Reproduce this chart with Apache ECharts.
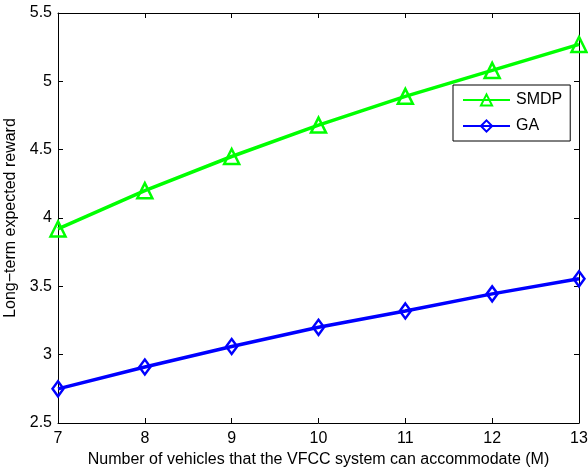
<!DOCTYPE html>
<html>
<head>
<meta charset="utf-8">
<script src="https://cdn.jsdelivr.net/npm/echarts@6/dist/echarts.min.js"></script>
<style>
  html, body { margin: 0; padding: 0; background: #fff; }
  #chart { width: 588px; height: 468px; }
</style>
</head>
<body>
<div id="chart"></div>
<script>
// Capacity M of the VFCC system
const vehicles = [7, 8, 9, 10, 11, 12, 13];
// Long-term expected reward per policy
const smdpReward = [3.92, 4.20, 4.45, 4.68, 4.89, 5.08, 5.27];
const gaReward = [2.75, 2.91, 3.06, 3.20, 3.32, 3.445, 3.555];
const seriesNames = ['SMDP', 'GA'];

const font = 'Liberation Sans, Arial, sans-serif';

const chart = echarts.init(document.getElementById('chart'), null, { renderer: 'canvas' });

function frameAxis(extra) {
  return Object.assign({
    axisLine: { show: true, onZero: false, lineStyle: { color: '#000', width: 1 } },
    axisTick: { show: true, inside: true, length: 5, lineStyle: { color: '#000' } },
    splitLine: { show: false },
    axisLabel: { show: false }
  }, extra);
}

chart.setOption({
  animation: false,
  backgroundColor: '#fff',
  grid: { left: 58, right: 9, top: 13, bottom: 45, containLabel: false, outerBoundsMode: 'none' },
  legend: {
    orient: 'vertical',
    left: 453,
    top: 85,
    width: 115,
    padding: [7, 8, 7, 9],
    itemGap: 10,
    itemWidth: 47,
    itemHeight: 14,
    backgroundColor: '#fff',
    borderColor: '#000',
    borderWidth: 1,
    textStyle: { fontFamily: font, fontSize: 16, color: '#000', padding: [0, 0, 0, 1] },
    data: seriesNames
  },
  xAxis: [
    frameAxis({
      type: 'value',
      min: 7, max: 13, interval: 1,
      position: 'bottom',
      axisLabel: { show: true, color: '#000', fontFamily: font, fontSize: 16, margin: 8 },
      name: 'Number of vehicles that the VFCC system can accommodate (M)',
      nameLocation: 'middle',
      nameGap: 25,
      nameTextStyle: { fontFamily: font, fontSize: 16, color: '#000' }
    }),
    frameAxis({ type: 'value', min: 7, max: 13, interval: 1, position: 'top' })
  ],
  yAxis: [
    frameAxis({
      type: 'value',
      min: 2.5, max: 5.5, interval: 0.5,
      position: 'left',
      axisLabel: { show: true, color: '#000', fontFamily: font, fontSize: 16, margin: 6 },
      name: 'Long\u2212term expected reward',
      nameLocation: 'middle',
      nameGap: 35,
      nameTextStyle: { fontFamily: font, fontSize: 16, color: '#000' }
    }),
    frameAxis({ type: 'value', min: 2.5, max: 5.5, interval: 0.5, position: 'right' })
  ],
  series: [
    {
      name: seriesNames[0],
      type: 'line',
      data: vehicles.map((v, i) => [v, smdpReward[i]]),
      symbol: 'triangle',
      symbolSize: 15,
      lineStyle: { color: '#00ff00', width: 3.5 },
      itemStyle: { color: 'rgba(0,0,0,0)', borderColor: '#00ff00', borderWidth: 2.5 },
      emphasis: { disabled: true }
    },
    {
      name: seriesNames[1],
      type: 'line',
      data: vehicles.map((v, i) => [v, gaReward[i]]),
      symbol: 'diamond',
      symbolSize: [11, 15],
      lineStyle: { color: '#0000ff', width: 3.5 },
      itemStyle: { color: 'rgba(0,0,0,0)', borderColor: '#0000ff', borderWidth: 2.5 },
      emphasis: { disabled: true }
    }
  ]
});
</script>
</body>
</html>
